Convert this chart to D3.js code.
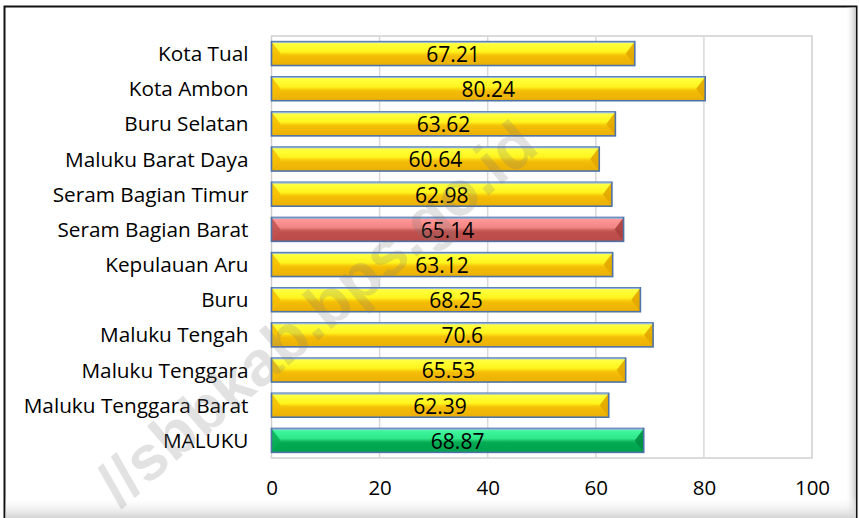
<!DOCTYPE html>
<html>
<head>
<meta charset="utf-8">
<script src="https://cdn.jsdelivr.net/npm/d3@7"></script>
<style>
  html, body { margin: 0; padding: 0; background: #fff; }
  svg { display: block; }
</style>
</head>
<body>
<svg id="chart" width="859" height="518"></svg>
<script>
// Kabupaten/kota values, listed top to bottom
const categories = [
  "Kota Tual", "Kota Ambon", "Buru Selatan", "Maluku Barat Daya",
  "Seram Bagian Timur", "Seram Bagian Barat", "Kepulauan Aru", "Buru",
  "Maluku Tengah", "Maluku Tenggara", "Maluku Tenggara Barat", "MALUKU"
];
const values = [67.21, 80.24, 63.62, 60.64, 62.98, 65.14, 63.12, 68.25, 70.6, 65.53, 62.39, 68.87];
const valueLabels = ["67.21", "80.24", "63.62", "60.64", "62.98", "65.14", "63.12", "68.25", "70.6", "65.53", "62.39", "68.87"];
const xTicks = [0, 20, 40, 60, 80, 100];
const provinceName = "MALUKU";
const highlighted = "Seram Bagian Barat";
const watermark = "//sbbkab.bps.go.id";

const FONT = "'Open Sans', 'Noto Sans', sans-serif";

const svg = d3.select("#chart");
const defs = svg.append("defs");

// Size the category font so the longest name spans the label column
function fitFontSize(text, targetWidth, base) {
  const t = svg.append("text").attr("font-family", FONT).attr("font-size", base).text(text);
  const w = t.node().getComputedTextLength();
  t.remove();
  return base * targetWidth / w;
}
const longest = categories.reduce((a, b) => (b.length > a.length ? b : a));
const catSize = Math.min(21, fitFontSize(longest, 225, 20));

// Bevelled bar fills: bright upper face, darker lower face
const palettes = {
  yellow: { stops: [[0, "#FFFF70"], [0.12, "#FFFF3A"], [0.42, "#FFF41E"], [0.55, "#F7C80A"], [0.62, "#F3BC05"], [1, "#EBAF08"]],
            left: "#F4BC05", right: "#E2A600" },
  red:    { stops: [[0, "#FFA8A8"], [0.12, "#FF9494"], [0.42, "#F08684"], [0.55, "#C85A57"], [0.62, "#C0504D"], [1, "#B84A47"]],
            left: "#C25350", right: "#A8403D" },
  green:  { stops: [[0, "#6CFFB8"], [0.12, "#3DF59C"], [0.42, "#2EE88A"], [0.55, "#10B25A"], [0.62, "#00AA52"], [1, "#00A24C"]],
            left: "#08AE55", right: "#008E42" }
};
Object.entries(palettes).forEach(([key, p]) => {
  const g = defs.append("linearGradient").attr("id", "fill-" + key)
    .attr("x1", 0).attr("y1", 0).attr("x2", 0).attr("y2", 1);
  p.stops.forEach(([o, c]) => g.append("stop").attr("offset", o).attr("stop-color", c));
});

// Frame shading on right and bottom edges
const shadeR = defs.append("linearGradient").attr("id", "shadeR").attr("x1", 0).attr("x2", 1).attr("y1", 0).attr("y2", 0);
shadeR.append("stop").attr("offset", 0).attr("stop-color", "#fff").attr("stop-opacity", 0);
shadeR.append("stop").attr("offset", 1).attr("stop-color", "#c8c8c8").attr("stop-opacity", 1);
const shadeB = defs.append("linearGradient").attr("id", "shadeB").attr("x1", 0).attr("x2", 0).attr("y1", 0).attr("y2", 1);
shadeB.append("stop").attr("offset", 0).attr("stop-color", "#fff").attr("stop-opacity", 0);
shadeB.append("stop").attr("offset", 1).attr("stop-color", "#d4d4d4").attr("stop-opacity", 1);

// Outer frame
svg.append("rect").attr("x", 4.5).attr("y", 6.5).attr("width", 852).attr("height", 520)
  .attr("fill", "#fff").attr("stroke", "#111").attr("stroke-width", 2);
svg.append("rect").attr("x", 845).attr("y", 7.5).attr("width", 11).attr("height", 510).attr("fill", "url(#shadeR)");
svg.append("rect").attr("x", 5.5).attr("y", 496).attr("width", 850).attr("height", 22).attr("fill", "url(#shadeB)");

// Scales
const x = d3.scaleLinear().domain([0, 100]).range([271.5, 812]);
const y = d3.scaleBand().domain(categories).range([36, 458]).paddingInner(0.32).paddingOuter(0.16);

// Plot area border and vertical gridlines
svg.append("rect").attr("x", x(0)).attr("y", 36).attr("width", x(100) - x(0)).attr("height", 458 - 36)
  .attr("fill", "none").attr("stroke", "#cfcfcf").attr("stroke-width", 1.5);
svg.append("g").selectAll("line").data(xTicks.slice(1, -1)).join("line")
  .attr("x1", d => x(d)).attr("x2", d => x(d)).attr("y1", 36).attr("y2", 458)
  .attr("stroke", "#d9d9d9").attr("stroke-width", 1.5);

// X axis tick labels
const xAxis = svg.append("g").attr("transform", "translate(0,488)")
  .call(d3.axisBottom(x).tickValues(xTicks).tickSize(0).tickPadding(0).tickFormat(d3.format("d")));
xAxis.select(".domain").remove();
xAxis.selectAll("text").attr("font-family", FONT).attr("font-size", 20.5).attr("fill", "#000")
  .attr("dy", "0.36em");

// Category labels
const yAxis = svg.append("g").attr("transform", "translate(248.5,0)")
  .call(d3.axisLeft(y).tickSize(0).tickPadding(0));
yAxis.select(".domain").remove();
yAxis.selectAll("text").attr("font-family", FONT).attr("font-size", catSize).attr("fill", "#000")
  .attr("dy", "0.36em");

// Bars
const rows = categories.map((c, i) => ({
  name: c, value: values[i], label: valueLabels[i],
  kind: c === provinceName ? "green" : (c === highlighted ? "red" : "yellow")
}));
const bars = svg.append("g").selectAll("g").data(rows).join("g");
const bev = 9;
bars.append("rect")
  .attr("x", x(0)).attr("y", d => y(d.name))
  .attr("width", d => x(d.value) - x(0)).attr("height", y.bandwidth())
  .attr("fill", d => `url(#fill-${d.kind})`);
// end faces of the bevel
bars.append("path").attr("fill", d => palettes[d.kind].left).attr("opacity", 0.85)
  .attr("d", d => {
    const x0 = x(0), y0 = y(d.name), h = y.bandwidth();
    return `M${x0},${y0}L${x0 + bev},${y0 + h / 2}L${x0},${y0 + h}Z`;
  });
bars.append("path").attr("fill", d => palettes[d.kind].right).attr("opacity", 0.9)
  .attr("d", d => {
    const x1 = x(d.value), y0 = y(d.name), h = y.bandwidth();
    return `M${x1},${y0}L${x1 - bev},${y0 + h / 2}L${x1},${y0 + h}Z`;
  });
bars.append("rect")
  .attr("x", x(0)).attr("y", d => y(d.name))
  .attr("width", d => x(d.value) - x(0)).attr("height", y.bandwidth())
  .attr("fill", "none").attr("stroke", "#4E73A6").attr("stroke-width", 1.6);
bars.append("line")
  .attr("x1", x(0) + 1).attr("x2", d => x(d.value) - 1)
  .attr("y1", d => y(d.name) + 0.6).attr("y2", d => y(d.name) + 0.6)
  .attr("stroke", "#93B4DE").attr("stroke-width", 1.2);

// Value labels centred in each bar
bars.append("text")
  .attr("x", d => (x(0) + x(d.value)) / 2)
  .attr("y", d => y(d.name) + y.bandwidth() / 2)
  .attr("dy", "0.4em")
  .attr("text-anchor", "middle")
  .attr("font-family", FONT).attr("font-size", 21).attr("fill", "#000")
  .text(d => d.label);

// Site watermark across the chart
svg.append("text")
  .attr("transform", "translate(120,509) rotate(-40.4)")
  .attr("text-anchor", "start")
  .attr("font-family", "'Liberation Sans', Arial, sans-serif")
  .attr("font-weight", "bold").attr("font-size", 63)
  .attr("fill", "#7a7a7a").attr("fill-opacity", 0.22)
  .text(watermark);
</script>
</body>
</html>
